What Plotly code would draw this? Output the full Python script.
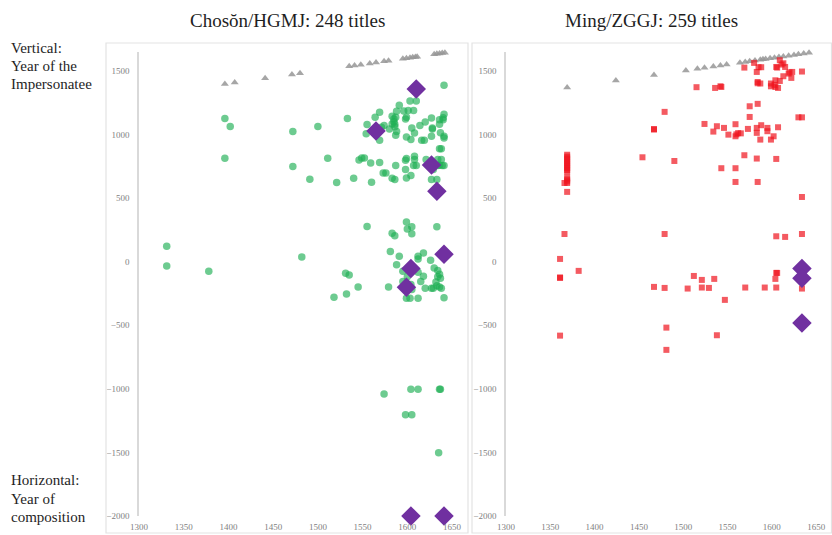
import plotly.graph_objects as go

# ---------------- data ----------------
# Left panel: Choson / HGMJ
joseon_tri_years = [1396, 1407, 1441, 1471, 1480, 1535, 1541, 1548, 1558, 1565, 1574, 1579,
                    1595, 1599, 1603, 1606, 1609, 1611, 1630, 1633, 1636, 1639, 1642]

joseon_green_x = [1396, 1402, 1396, 1472, 1472, 1500, 1491, 1511, 1521, 1533, 1540, 1546, 1549, 1552,
                  1555, 1554, 1559, 1560, 1564, 1569, 1569, 1569, 1571, 1574, 1573, 1576, 1580, 1583,
                  1583, 1585, 1585, 1586, 1587, 1586, 1587, 1583, 1586, 1588, 1591, 1587, 1588, 1596,
                  1598, 1599, 1599, 1598, 1598, 1599, 1599, 1601, 1603, 1610, 1604, 1605, 1604, 1607,
                  1608, 1608, 1607, 1610, 1614, 1616, 1619, 1620, 1621, 1627, 1628, 1628, 1627, 1628,
                  1629, 1627, 1633, 1636, 1636, 1638, 1636, 1640, 1641, 1637, 1641, 1641, 1634, 1638,
                  1634, 1639, 1641, 1636, 1640, 1641, 1608,
                  1331, 1331, 1378, 1482, 1555, 1531, 1535, 1545, 1532, 1518, 1579, 1581, 1583, 1586,
                  1591, 1588, 1595, 1595, 1599, 1600, 1605, 1605, 1605, 1599, 1603, 1612, 1612, 1612,
                  1618, 1612, 1615, 1618, 1620, 1627, 1629, 1626, 1633, 1630, 1634, 1636, 1637, 1633,
                  1636, 1638, 1641, 1640, 1634, 1632, 1600, 1604,
                  1574, 1604, 1612, 1636, 1637, 1598, 1605, 1635, 1612, 1636]
joseon_green_y = [1124, 1061, 812, 1022, 747, 1061, 647, 812, 621, 1124, 655, 799, 815, 815,
                  1077, 1004, 776, 624, 1135, 1174, 954, 778, 1056, 1069, 697, 697, 1043, 1082,
                  1143, 1120, 1100, 1080, 1135, 1060, 755, 655, 645, 1182, 1229, 993, 1022, 1184,
                  1120, 1135, 980, 723, 797, 810, 658, 1187, 1263, 1263, 959, 1051, 676, 1187,
                  828, 802, 755, 755, 1069, 954, 954, 1098, 802, 1129, 1051, 1043, 985, 763,
                  723, 645, 645, 757, 888, 888, 1116, 1116, 1158, 1012, 972, 1386, 802, 802,
                  755, 755, 755, 1080, 1130, 985, 1010,
                  121, -34, -76, 37, 275, -92, -105, -199, -254, -280, -199, 79, 223, 204,
                  42, -24, -76, -157, 312, 257, 273, 218, -220, -288, -288, -288, 42, 21,
                  68, -84, -157, -115, -210, -210, -210, 10, 273, -50, -70, -100, -130, -190,
                  -200, -210, -285, 60, -120, -160, -120, -180,
                  -1040, -1004, -1004, -1004, -1004, -1205, -1205, -1502, -2002, -2002]

joseon_diamond_x = [1610, 1565, 1627, 1633, 1641, 1604, 1599, 1604, 1641]
joseon_diamond_y = [1357, 1027, 760, 553, 58, -55, -202, -2000, -2000]

# Right panel: Ming / ZGGJ
ming_tri_years = [1369, 1424, 1467, 1503, 1516, 1524, 1534, 1542, 1549, 1564, 1570, 1575, 1581,
                  1587, 1590, 1593, 1598, 1603, 1608, 1613, 1619, 1625, 1630, 1636, 1642]

ming_red_x = [1369, 1369, 1369, 1369, 1369, 1369, 1369, 1369, 1369, 1369, 1369, 1369, 1369, 1369,
              1366, 1369,
              1479, 1467, 1467, 1454, 1490, 1515, 1524, 1534, 1538, 1536, 1542, 1543, 1546, 1543,
              1551, 1559, 1559, 1560, 1562, 1565, 1559, 1559, 1569, 1569, 1573, 1575, 1575, 1580,
              1583, 1584, 1584, 1584, 1587, 1583, 1583, 1587, 1588, 1585, 1588, 1583, 1584, 1595,
              1595, 1599, 1599, 1599, 1602, 1604, 1607, 1604, 1605, 1607, 1605, 1609, 1611, 1615,
              1613, 1622, 1623, 1619, 1630, 1634, 1634, 1634, 1606, 1613, 1609, 1603, 1620,
              1366, 1361, 1382, 1361, 1361, 1361, 1479, 1467, 1479, 1481, 1481, 1505, 1512, 1521,
              1521, 1529, 1535, 1547, 1538, 1570, 1592, 1605, 1615, 1605, 1606, 1604, 1605, 1634,
              1634]
ming_red_y = [840, 825, 810, 795, 780, 765, 750, 735, 720, 705, 660, 645, 630, 618,
              618, 548,
              1177, 1038, 1042, 820, 791, 1371, 1082, 1022, 1064, 1365, 1378, 1373, 1051, 734,
              998, 1080, 985, 1000, 1010, 1008, 734, 626, 1525, 836, 1043, 1137, 1221, 1562,
              1491, 1240, 1412, 1402, 1400, 1051, 1012, 959, 1072, 1528, 1528, 810, 626, 1051,
              1025, 1400, 1378, 959, 985, 1373, 1365, 1425, 807, 1056, 1530, 1583, 1549, 1530,
              1457, 1444, 1491, 1478, 1134, 1134, 1494, 508, 1525, 1559, 1420, 1389, 1488,
              217, 21, -73, -128, -125, -582, 217, -199, -207, -519, -694, -212, -113, -144,
              -204, -207, -136, -301, -579, -204, -204, 199, 194, -89, -89, -136, -204, 217,
              -212]

ming_diamond_x = [1634, 1634, 1634]
ming_diamond_y = [-55, -131, -482]

x_ticks = [1300, 1350, 1400, 1450, 1500, 1550, 1600, 1650]
y_ticks = [-2000, -1500, -1000, -500, 0, 500, 1000, 1500]

title_left = "Chosŏn/HGMJ: 248 titles"
title_right = "Ming/ZGGJ: 259 titles"
vertical_lines = ["Vertical:", "Year of the", "Impersonatee"]
horizontal_lines = ["Horizontal:", "Year of", "composition"]

# ---------------- figure ----------------
W, H = 832, 535
SERIF = "Liberation Serif, DejaVu Serif, serif"
GREEN = "rgba(30,175,85,0.65)"
RED = "rgba(240,20,30,0.7)"
PURPLE = "#7030A0"
GREY = "rgba(150,150,150,0.85)"
TXT = "#1e1e1e"

fig = go.Figure()

def add_panel(xa, ya, tri, pts_x, pts_y, sym, col, size, dx, dy):
    fig.add_trace(go.Scatter(x=tri, y=tri, mode="markers", xaxis=xa, yaxis=ya,
                             marker=dict(symbol="triangle-up", size=7, color=GREY),
                             cliponaxis=False, showlegend=False, hoverinfo="x+y"))
    fig.add_trace(go.Scatter(x=pts_x, y=pts_y, mode="markers", xaxis=xa, yaxis=ya,
                             marker=dict(symbol=sym, size=size, color=col, line=dict(width=0)),
                             cliponaxis=False, showlegend=False, hoverinfo="x+y"))
    fig.add_trace(go.Scatter(x=dx, y=dy, mode="markers", xaxis=xa, yaxis=ya,
                             marker=dict(symbol="diamond", size=15, color=PURPLE, line=dict(width=0)),
                             cliponaxis=False, showlegend=False, hoverinfo="x+y"))

add_panel("x", "y", joseon_tri_years, joseon_green_x, joseon_green_y, "circle", GREEN, 7.5,
          joseon_diamond_x, joseon_diamond_y)
add_panel("x2", "y2", ming_tri_years, ming_red_x, ming_red_y, "square", RED, 6,
          ming_diamond_x, ming_diamond_y)

xr = [1300, 1660]
yr = [-2000, 1650]
ydom = [(H - 516) / H, (H - 51.7) / H]

xcommon = dict(range=xr, tickvals=x_ticks, showgrid=False, zeroline=False, showline=False,
               ticks="", automargin=False, ticklabelstandoff=4,
               tickfont=dict(family=SERIF, size=9, color="#7f7f7f"), fixedrange=True)
ycommon = dict(range=yr, tickvals=y_ticks, showgrid=False, zeroline=False, showline=True,
               linecolor="#d9d9d9", linewidth=1.5, ticks="", ticklabelstandoff=6, automargin=False,
               tickfont=dict(family=SERIF, size=9, color="#7f7f7f"), fixedrange=True)

annotations = [
    dict(text=title_left, x=287 / W, y=(H - 20) / H, xref="paper", yref="paper",
         showarrow=False, xanchor="center", yanchor="middle",
         font=dict(family=SERIF, size=19, color=TXT)),
    dict(text=title_right, x=651 / W, y=(H - 20) / H, xref="paper", yref="paper",
         showarrow=False, xanchor="center", yanchor="middle",
         font=dict(family=SERIF, size=19, color=TXT)),
]
for i, line in enumerate(vertical_lines):
    annotations.append(dict(text=line, x=9 / W, y=(H - (48 + 18 * i)) / H, xref="paper",
                            yref="paper", showarrow=False, xanchor="left", yanchor="middle",
                            font=dict(family=SERIF, size=15, color=TXT)))
for i, line in enumerate(horizontal_lines):
    annotations.append(dict(text=line, x=9 / W, y=(H - (480 + 18.5 * i)) / H, xref="paper",
                            yref="paper", showarrow=False, xanchor="left", yanchor="middle",
                            font=dict(family=SERIF, size=15, color=TXT)))

fig.update_layout(
    template="none",
    width=W, height=H, margin=dict(l=0, r=0, t=0, b=0, pad=0, autoexpand=False),
    paper_bgcolor="white", plot_bgcolor="white",
    xaxis=dict(domain=[139 / W, 461 / W], anchor="y", **xcommon),
    yaxis=dict(domain=ydom, anchor="x", **ycommon),
    xaxis2=dict(domain=[506 / W, 825 / W], anchor="y2", **xcommon),
    yaxis2=dict(domain=ydom, anchor="x2", **ycommon),
    shapes=[
        dict(type="rect", xref="paper", yref="paper", x0=106 / W, x1=468 / W,
             y0=2 / H, y1=(H - 43) / H, line=dict(color="#e3e3e3", width=1.2)),
        dict(type="rect", xref="paper", yref="paper", x0=472 / W, x1=831.5 / W,
             y0=2 / H, y1=(H - 43) / H, line=dict(color="#e3e3e3", width=1.2)),
    ],
    annotations=annotations,
)

fig.write_html("out.html", config={"displayModeBar": False},
               post_script="document.body.style.margin='0';document.body.style.overflow='hidden';")
